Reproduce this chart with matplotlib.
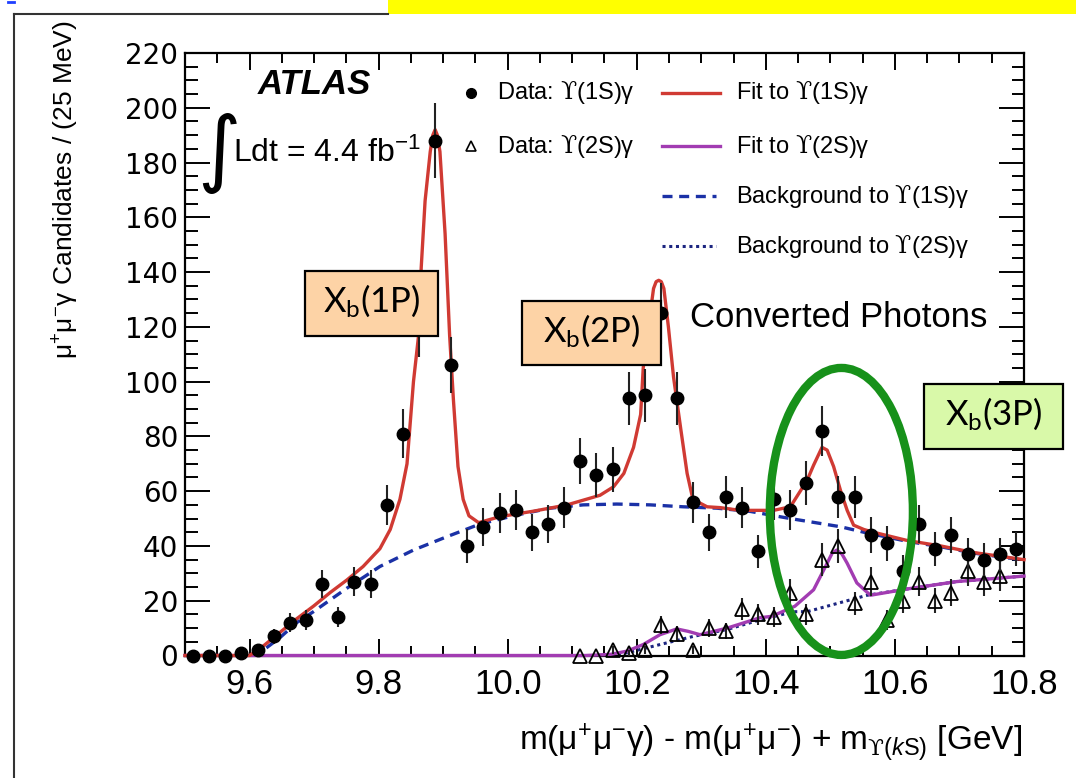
import numpy as np
import matplotlib.pyplot as plt
from matplotlib.patches import Rectangle, Ellipse
from matplotlib.lines import Line2D
from matplotlib.ticker import MultipleLocator, FixedLocator, FixedFormatter

plt.rcParams['mathtext.fontset'] = 'custom'
plt.rcParams['mathtext.rm'] = 'Liberation Sans'
plt.rcParams['mathtext.it'] = 'Liberation Sans:italic'
plt.rcParams['mathtext.sf'] = 'Lato'
plt.rcParams['mathtext.cal'] = 'DejaVu Serif'
plt.rcParams['mathtext.fallback'] = 'stix'

# data: Upsilon(1S) gamma, 25 MeV bins
mass_1s = [9.5125, 9.5375, 9.5625, 9.5875, 9.6125, 9.6375, 9.6625, 9.6875, 9.7125, 9.7375,
           9.7625, 9.7875, 9.8125, 9.8375, 9.8625, 9.8875, 9.9125, 9.9375, 9.9625, 9.9875,
           10.0125, 10.0375, 10.0625, 10.0875, 10.1125, 10.1375, 10.1625, 10.1875, 10.2125, 10.2375,
           10.2625, 10.2875, 10.3125, 10.3375, 10.3625, 10.3875, 10.4125, 10.4375, 10.4625, 10.4875,
           10.5125, 10.5375, 10.5625, 10.5875, 10.6125, 10.6375, 10.6625, 10.6875, 10.7125, 10.7375,
           10.7625, 10.7875]
counts_1s = [0, 0, 0, 1, 2, 7, 12, 13, 26, 14,
             27, 26, 55, 81, 120, 188, 106, 40, 47, 52,
             53, 45, 48, 54, 71, 66, 68, 94, 95, 125,
             94, 56, 45, 58, 54, 38, 57, 53, 63, 82,
             58, 58, 44, 41, 31, 48, 39, 44, 37, 35,
             37, 39]

# data: Upsilon(2S) gamma
mass_2s = [10.1125, 10.1375, 10.1625, 10.1875, 10.2125, 10.2375, 10.2625, 10.2875, 10.3125, 10.3375,
           10.3625, 10.3875, 10.4125, 10.4375, 10.4625, 10.4875, 10.5125, 10.5375, 10.5625, 10.5875,
           10.6125, 10.6375, 10.6625, 10.6875, 10.7125, 10.7375, 10.7625]
counts_2s = [0, 0, 2, 1, 2, 11, 8, 2, 10, 9,
             17, 15, 14, 23, 15, 35, 40, 19, 27, 13,
             20, 27, 20, 23, 31, 27, 29]

# fit curves
fit_1s_x = [9.50, 9.60, 9.621, 9.647, 9.673, 9.699, 9.725, 9.751, 9.776, 9.802,
            9.818, 9.833, 9.844, 9.854, 9.862, 9.866, 9.872, 9.880, 9.884, 9.8876,
            9.891, 9.895, 9.903, 9.910, 9.916, 9.923, 9.931, 9.940, 9.955, 9.988,
            10.040, 10.092, 10.143, 10.164, 10.180, 10.195, 10.206, 10.210, 10.218, 10.226,
            10.230, 10.234, 10.238, 10.242, 10.249, 10.257, 10.268, 10.278, 10.287, 10.309,
            10.329, 10.360, 10.412, 10.438, 10.464, 10.474, 10.487, 10.495, 10.505, 10.516,
            10.526, 10.536, 10.552, 10.567, 10.619, 10.671, 10.722, 10.80]
fit_1s_y = [0, 0, 3.4, 8.4, 13.4, 18, 23, 27.6, 32.5, 39,
            46, 57, 70, 100, 117, 141.6, 166, 184, 190, 192,
            190, 184, 154, 117, 93, 69, 57, 51, 48.5, 50.7,
            52.7, 55, 58.5, 61.6, 66.5, 76, 88, 105, 120, 134,
            136.5, 137, 136.5, 134, 120, 101.6, 83, 66.5, 57, 54.3,
            54, 53, 53, 54.3, 64, 69.5, 76, 75, 69, 60,
            53, 47.6, 46, 45, 42, 40, 37.6, 35]

fit_2s_x = [9.50, 10.12, 10.159, 10.185, 10.210, 10.236, 10.262, 10.280, 10.298, 10.340,
            10.391, 10.409, 10.445, 10.474, 10.495, 10.503, 10.510, 10.518, 10.526, 10.541,
            10.562, 10.619, 10.696, 10.80]
fit_2s_y = [0, 0, 0.4, 1.6, 4, 7.6, 9.7, 8.8, 7.6, 10,
            13.8, 14.3, 18, 24, 33.7, 37.5, 38.5, 37, 33.7, 26.5,
            22, 24.3, 27, 29]

bkg_1s_x = [9.50, 9.60, 9.616, 9.647, 9.673, 9.699, 9.751, 9.802, 9.854, 9.906,
            9.957, 10.014, 10.066, 10.117, 10.169, 10.221, 10.272, 10.324, 10.376, 10.438,
            10.516, 10.552, 10.619, 10.671, 10.722, 10.80]
bkg_1s_y = [0, 0, 1, 6.5, 12, 16, 24.6, 32.5, 38.5, 43.4,
            48, 51.3, 53.8, 55, 55.3, 55, 54.3, 53.8, 52.6, 50,
            47, 45, 41.7, 39.7, 37.4, 34.8]

bkg_2s_x = [10.15, 10.185, 10.236, 10.288, 10.340, 10.391, 10.443, 10.464, 10.557, 10.619, 10.696, 10.80]
bkg_2s_y = [0, 1, 4, 7, 9.5, 13, 16, 16, 22, 24.3, 27, 29]

xtick_vals = [9.6, 9.8, 10.0, 10.2, 10.4, 10.6, 10.8]
xtick_labels = ['9.6', '9.8', '10.0', '10.2', '10.4', '10.6', '10.8']
ytick_vals = [0, 20, 40, 60, 80, 100, 120, 140, 160, 180, 200, 220]

red = '#d03a33'
purple = '#a23cb2'
blue = '#1b31a6'
navy = '#1c2580'
W, H = 1076, 778
UPS = r'$\mathcal{ϒ}$'

def fx(px):
    return px / W

def fy(py):
    return 1 - py / H

fig = plt.figure(figsize=(W / 100, H / 100), dpi=100)
ax = fig.add_axes([fx(185), fy(655.5), (1024 - 185) / W, (655.5 - 53) / H])

ax.plot(bkg_2s_x, bkg_2s_y, color=navy, lw=2.2, ls=(0, (1, 1.2)), zorder=2)
ax.plot(bkg_1s_x, bkg_1s_y, color=blue, lw=2.4, ls=(0, (3, 2)), zorder=2)
ax.plot(fit_2s_x, fit_2s_y, color=purple, lw=2.4, zorder=3, clip_on=False)
ax.plot(fit_1s_x, fit_1s_y, color=red, lw=2.4, zorder=3, clip_on=False)

ax.errorbar(mass_2s, counts_2s, yerr=np.sqrt(counts_2s), fmt='^', ms=10, mfc='none',
            mec='black', mew=1.3, ecolor='#222222', elinewidth=1.5, capsize=0, zorder=4, clip_on=False)
ax.errorbar(mass_1s, counts_1s, yerr=np.sqrt(counts_1s), fmt='o', ms=9, color='black',
            ecolor='#222222', elinewidth=1.5, capsize=0, zorder=5, clip_on=False)

ax.set_xlim(9.5, 10.8)
ax.set_ylim(0, 220)
ax.xaxis.set_major_locator(FixedLocator(xtick_vals))
ax.xaxis.set_major_formatter(FixedFormatter(xtick_labels))
ax.xaxis.set_minor_locator(MultipleLocator(0.05))
ax.yaxis.set_major_locator(FixedLocator(ytick_vals))
ax.yaxis.set_minor_locator(MultipleLocator(5))
ax.tick_params(which='both', direction='in', top=True, right=True, width=1.4)
ax.tick_params(axis='x', which='major', length=12.5, pad=9)
ax.tick_params(axis='x', which='minor', length=7)
ax.tick_params(axis='y', which='major', length=18, pad=5)
ax.tick_params(axis='y', which='minor', length=9)
for lab in ax.get_xticklabels():
    lab.set_fontfamily('Liberation Sans')
    lab.set_fontsize(25)
for lab in ax.get_yticklabels():
    lab.set_fontfamily('DejaVu Sans')
    lab.set_fontsize(20)
for sp in ax.spines.values():
    sp.set_linewidth(1.6)

# axis titles
fig.text(fx(66), fy(190), r'$\mathrm{\mu^{+}\mu^{-}\gamma}$ Candidates / (25 MeV)', rotation=90,
         ha='center', va='center', fontsize=19, family='Liberation Sans')
fig.text(fx(1022), fy(750), r'm($\mathrm{\mu^{+}\mu^{-}\gamma}$) - m($\mathrm{\mu^{+}\mu^{-}}$) + m$_{\mathcal{ϒ}(\mathit{k}\mathrm{S})}$ [GeV]',
         ha='right', va='baseline', fontsize=24, family='Liberation Sans')

# ATLAS label
fig.text(fx(258), fy(85), 'ATLAS', fontsize=25, weight='bold', style='italic',
         family='Liberation Sans', ha='left', va='center')
fig.text(fx(219), fy(154), '∫', fontsize=60, family='DejaVu Sans', ha='center', va='center')
fig.text(fx(233), fy(162), r'Ldt = 4.4 fb$^{\mathrm{-1}}$', fontsize=23, family='Liberation Sans',
         ha='left', va='baseline')
fig.text(fx(690), fy(318), 'Converted Photons', fontsize=25, family='Liberation Sans',
         ha='left', va='center')

# legend
rows = [93, 146, 196, 246]
fig.add_artist(Line2D([fx(471)], [fy(rows[0])], marker='o', ms=7, color='black', ls='none'))
fig.add_artist(Line2D([fx(471)], [fy(rows[1])], marker='^', ms=7, mfc='none', mec='black', mew=1.2, ls='none'))
fig.text(fx(497), fy(rows[0]), 'Data: ' + UPS + '(1S)γ', fontsize=17, family='Liberation Sans', va='center')
fig.text(fx(497), fy(rows[1]), 'Data: ' + UPS + '(2S)γ', fontsize=17, family='Liberation Sans', va='center')
fig.add_artist(Line2D([fx(662), fx(720)], [fy(rows[0])] * 2, color=red, lw=2.4))
fig.add_artist(Line2D([fx(662), fx(720)], [fy(rows[1])] * 2, color=purple, lw=2.4))
fig.add_artist(Line2D([fx(662), fx(716)], [fy(rows[2])] * 2, color=blue, lw=2.4, ls=(0, (3, 2))))
fig.add_artist(Line2D([fx(662), fx(716)], [fy(rows[3])] * 2, color=navy, lw=2.2, ls=(0, (1, 1.2))))
leg_texts = ['Fit to ' + UPS + '(1S)γ', 'Fit to ' + UPS + '(2S)γ',
             'Background to ' + UPS + '(1S)γ', 'Background to ' + UPS + '(2S)γ']
for r, t in zip(rows, leg_texts):
    fig.text(fx(736), fy(r), t, fontsize=17, family='Liberation Sans', va='center')

# annotation boxes
boxes = [(305, 271, 438, 336, '#fdd3a6', '1P'),
         (522, 301, 661, 365, '#fdd3a6', '2P'),
         (924, 384, 1063, 449, '#d9f9a9', '3P')]
for x0, y0, x1, y1, col, lab in boxes:
    fig.add_artist(Rectangle((fx(x0), fy(y1)), (x1 - x0) / W, (y1 - y0) / H,
                             facecolor=col, edgecolor='black', lw=1.6, zorder=6))
    fig.text(fx((x0 + x1) / 2), fy((y0 + y1) / 2 - 2), r'X$_\mathsf{b}$(' + lab + ')', fontsize=25,
             family='Lato', ha='center', va='center', zorder=7)

ax.add_patch(Ellipse((10.517, 52.6), 0.2217, 104.8, fill=False, edgecolor='#17911a', lw=6,
                     clip_on=False, zorder=10))

# page decoration from the slide
fig.add_artist(Rectangle((fx(388), fy(14)), (W - 388) / W, 14 / H, facecolor='#ffff00', edgecolor='none'))
fig.add_artist(Line2D([fx(14), fx(14)], [fy(14), 0], color='#333333', lw=1.5))
fig.add_artist(Line2D([fx(14), fx(388)], [fy(14), fy(14)], color='#333333', lw=1.5))
fig.add_artist(Line2D([fx(8), fx(14)], [fy(2), fy(2)], color='#1f3fff', lw=2))

fig.savefig('out.png', dpi=100)
